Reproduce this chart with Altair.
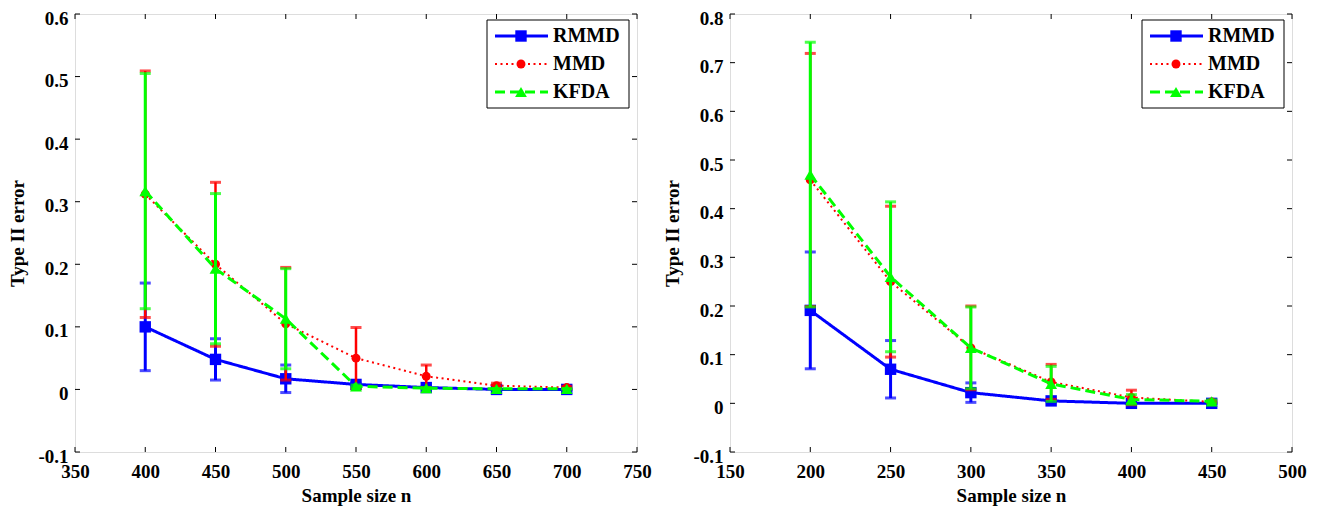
import altair as alt
import pandas as pd

series = ["RMMD", "MMD", "KFDA"]
colors = ["#0000FF", "#FF0000", "#00FF00"]
shapes = ["square", "circle", "triangle-up"]
marker_sizes = [130, 80, 140]
line_widths = [3, 2, 3]
dashes = [[1, 0], [2, 3.5], [10, 5]]

# ---- left panel data ----
n_left = [400, 450, 500, 550, 600, 650, 700]
rmmd_left = [0.100, 0.048, 0.017, 0.008, 0.003, 0.000, 0.000]
rmmd_left_err = [0.070, 0.033, 0.022, 0.002, 0.001, 0.000, 0.000]
mmd_left = [0.312, 0.200, 0.105, 0.050, 0.021, 0.006, 0.003]
mmd_left_err = [0.197, 0.131, 0.090, 0.049, 0.018, 0.004, 0.002]
kfda_left = [0.317, 0.193, 0.113, 0.005, 0.002, 0.001, 0.001]
kfda_left_err = [0.188, 0.120, 0.080, 0.002, 0.001, 0.000, 0.000]
x_ticks_left = [350, 400, 450, 500, 550, 600, 650, 700, 750]
y_ticks_left = [-0.1, 0, 0.1, 0.2, 0.3, 0.4, 0.5, 0.6]

# ---- right panel data ----
n_right = [200, 250, 300, 350, 400, 450]
rmmd_right = [0.191, 0.070, 0.022, 0.005, 0.000, 0.000]
rmmd_right_err = [0.120, 0.059, 0.020, 0.002, 0.000, 0.000]
mmd_right = [0.459, 0.250, 0.114, 0.044, 0.012, 0.003]
mmd_right_err = [0.260, 0.155, 0.086, 0.036, 0.015, 0.002]
kfda_right = [0.470, 0.260, 0.114, 0.040, 0.008, 0.004]
kfda_right_err = [0.272, 0.154, 0.084, 0.036, 0.010, 0.003]
x_ticks_right = [150, 200, 250, 300, 350, 400, 450, 500]
y_ticks_right = [-0.1, 0, 0.1, 0.2, 0.3, 0.4, 0.5, 0.6, 0.7, 0.8]

FONT = "Liberation Serif"
W, H = 562, 438
FS = 19

Y_LABEL_EXPR = ("abs(datum.value) < 1e-9 ? '0' : (datum.value < 0 ? '-' + "
                "format(-datum.value, '.1f') : format(datum.value, '.1f'))")


def panel(n, vals, errs, xticks, yticks):
    xs = alt.Scale(domain=[xticks[0], xticks[-1]], nice=False, zero=False)
    ys = alt.Scale(domain=[yticks[0], yticks[-1]], nice=False, zero=False)
    xaxis = alt.Axis(values=xticks, title="Sample size n", grid=False, ticks=False,
                     domain=False, labelFont=FONT, labelFontWeight="bold",
                     labelFontSize=FS, labelColor="black", labelPadding=10,
                     titleFont=FONT, titleFontWeight="bold", titleFontSize=FS,
                     titleColor="black", titlePadding=5, labelFlush=False,
                     labelOverlap=False)
    yaxis = alt.Axis(values=yticks, title="Type II error", grid=False, ticks=False,
                     domain=False, labelFont=FONT, labelFontWeight="bold",
                     labelFontSize=FS, labelColor="black", labelPadding=7,
                     labelOffset=4,
                     labelExpr=Y_LABEL_EXPR, titleFont=FONT, titleFontWeight="bold",
                     titleFontSize=FS, titleColor="black", titlePadding=10,
                     labelFlush=False, labelOverlap=False)

    def X(f):
        return alt.X(f, type="quantitative", scale=xs, axis=xaxis)

    def Y(f):
        return alt.Y(f, type="quantitative", scale=ys, axis=yaxis)

    layers = []
    xt = pd.DataFrame({"t": xticks})
    yt = pd.DataFrame({"t": yticks})
    tick_style = dict(color="black", strokeWidth=1)
    layers.append(alt.Chart(xt).mark_rule(**tick_style).encode(
        x=X("t"), y=alt.value(H), y2=alt.value(H - 5)))
    layers.append(alt.Chart(xt).mark_rule(**tick_style).encode(
        x=X("t"), y=alt.value(0), y2=alt.value(5)))
    layers.append(alt.Chart(yt).mark_rule(**tick_style).encode(
        y=Y("t"), x=alt.value(0), x2=alt.value(5)))
    layers.append(alt.Chart(yt).mark_rule(**tick_style).encode(
        y=Y("t"), x=alt.value(W), x2=alt.value(W - 5)))

    for i, s in enumerate(series):
        v = vals[i]
        e = errs[i]
        df = pd.DataFrame({
            "n": n, "val": v,
            "lo": [a - b for a, b in zip(v, e)],
            "hi": [a + b for a, b in zip(v, e)],
        })
        c = colors[i]
        base = alt.Chart(df)
        layers.append(base.mark_rule(color=c, strokeWidth=3 if i != 1 else 2.5).encode(
            x=X("n"), y=Y("lo"), y2="hi"))
        layers.append(base.mark_tick(color=c, size=11, thickness=3, orient="horizontal").encode(
            x=X("n"), y=Y("hi")))
        layers.append(base.mark_tick(color=c, size=11, thickness=3, orient="horizontal").encode(
            x=X("n"), y=Y("lo")))
        layers.append(base.mark_line(color=c, strokeWidth=line_widths[i],
                                     strokeDash=dashes[i]).encode(x=X("n"), y=Y("val")))
        layers.append(base.mark_point(color=c, filled=True, opacity=1, shape=shapes[i],
                                      size=marker_sizes[i]).encode(x=X("n"), y=Y("val")))

    # legend box
    one = pd.DataFrame({"k": [0]})
    layers.append(alt.Chart(one).mark_rect(fill="white", stroke="black", strokeWidth=1).encode(
        x=alt.value(412), x2=alt.value(554), y=alt.value(6), y2=alt.value(94)))
    rows_y = [22, 50, 78]
    names = pd.DataFrame({"name": series})
    for i, s in enumerate(series):
        c = colors[i]
        layers.append(alt.Chart(one).mark_rule(color=c, strokeWidth=line_widths[i],
                                               strokeDash=dashes[i]).encode(
            x=alt.value(420), x2=alt.value(473), y=alt.value(rows_y[i])))
        layers.append(alt.Chart(one).mark_point(color=c, filled=True, opacity=1, shape=shapes[i],
                                                size=marker_sizes[i]).encode(
            x=alt.value(446), y=alt.value(rows_y[i])))
        layers.append(alt.Chart(names).transform_filter(alt.datum.name == s).mark_text(
            font=FONT, fontWeight="bold", fontSize=FS + 1, color="black", align="left",
            baseline="middle").encode(text="name:N", x=alt.value(478), y=alt.value(rows_y[i])))

    return alt.layer(*layers).properties(width=W, height=H)


left = panel(n_left, [rmmd_left, mmd_left, kfda_left],
             [rmmd_left_err, mmd_left_err, kfda_left_err], x_ticks_left, y_ticks_left)
right = panel(n_right, [rmmd_right, mmd_right, kfda_right],
              [rmmd_right_err, mmd_right_err, kfda_right_err], x_ticks_right, y_ticks_right)

chart = alt.hconcat(left, right, spacing=11).properties(
    padding={"left": 0, "top": 0, "right": 5, "bottom": 5}
).configure_view(stroke="black", strokeWidth=1).configure(background="white")

chart.save("out.html", embed_options={"renderer": "svg", "actions": False})
